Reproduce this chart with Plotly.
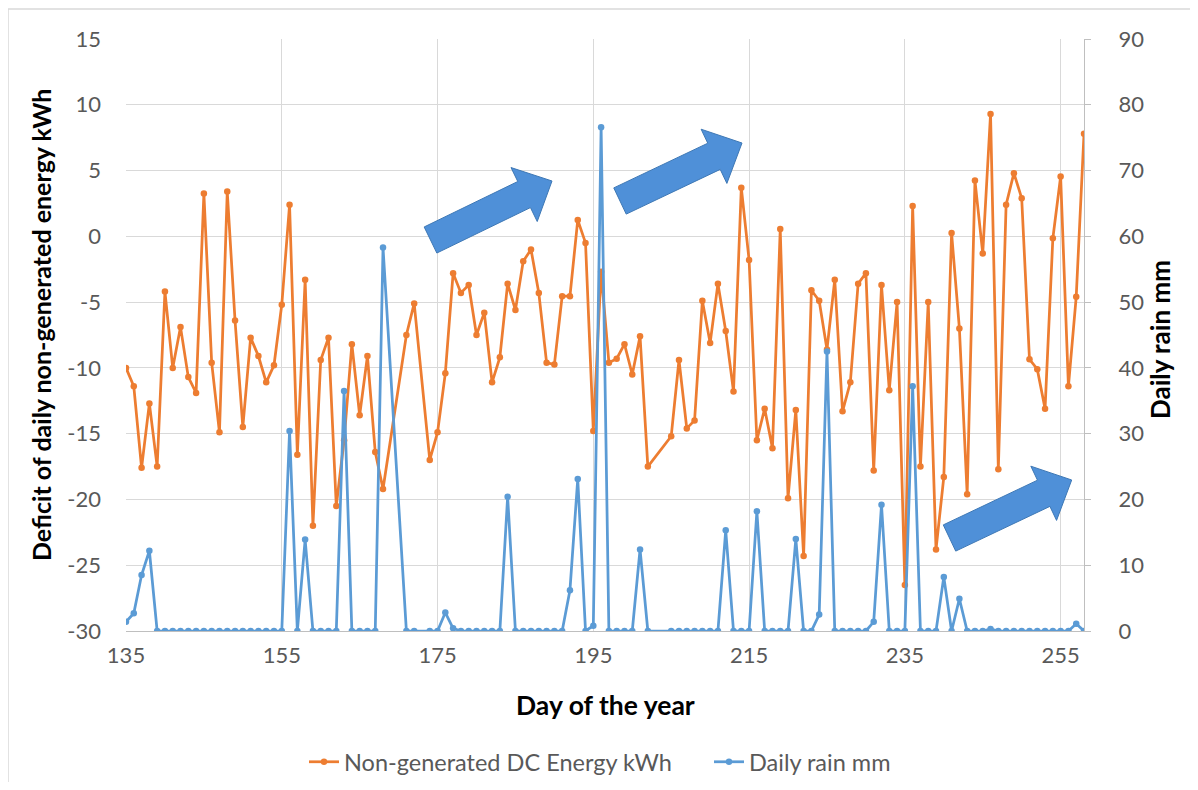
import plotly.graph_objects as go

days = [135, 136, 137, 138, 139, 140, 141, 142, 143, 144, 145, 146, 147, 148, 149, 150,
        151, 152, 153, 154, 155, 156, 157, 158, 159, 160, 161, 162, 163, 164, 165, 166,
        167, 168, 171, 172, 174, 175, 176, 177, 178, 179, 180, 181, 182, 183, 184, 185,
        186, 187, 188, 189, 190, 191, 192, 193, 194, 195, 196, 197, 198, 199, 200, 201,
        202, 205, 206, 207, 208, 209, 210, 211, 212, 213, 214, 215, 216, 217, 218, 219,
        220, 221, 222, 223, 224, 225, 226, 227, 228, 229, 230, 231, 232, 233, 234, 235,
        236, 237, 238, 239, 240, 241, 242, 243, 244, 245, 246, 247, 248, 249, 250, 251,
        252, 253, 254, 255, 256, 257, 258]

energy_deficit = [-10.0, -11.4, -17.6, -12.7, -17.5, -4.2, -10.0, -6.9, -10.7, -11.9, 3.25, -9.6,
                  -14.9, 3.4, -6.4, -14.5, -7.7, -9.1, -11.1, -9.8, -5.2, 2.4, -16.6, -3.3,
                  -22.0, -9.4, -7.7, -20.5, -15.5, -8.2, -13.6, -9.1, -16.4, -19.2, -7.5, -5.1,
                  -17.0, -14.9, -10.4, -2.8, -4.3, -3.7, -7.5, -5.8, -11.1, -9.2, -3.6, -5.6,
                  -1.9, -1.0, -4.3, -9.6, -9.75, -4.55, -4.55, 1.24, -0.5, -14.8, -2.7, -9.6,
                  -9.3, -8.2, -10.5, -7.6, -17.5, -15.2, -9.4, -14.6, -14.0, -4.9, -8.1, -3.6,
                  -7.2, -11.8, 3.7, -1.8, -15.5, -13.1, -16.1, 0.55, -19.9, -13.2, -24.3, -4.1,
                  -4.9, -8.6, -3.3, -13.3, -11.1, -3.6, -2.8, -17.8, -3.7, -11.7, -5.0, -26.5,
                  2.3, -17.5, -5.0, -23.8, -18.3, 0.25, -7.0, -19.6, 4.24, -1.3, 9.3, -17.7,
                  2.4, 4.8, 2.9, -9.35, -10.1, -13.1, -0.15, 4.55, -11.4, -4.6, 7.8]

daily_rain = [1.4, 2.7, 8.5, 12.2, 0, 0, 0, 0, 0, 0, 0, 0,
              0, 0, 0, 0, 0, 0, 0, 0, 0, 30.4, 0, 13.9,
              0, 0, 0, 0, 36.5, 0, 0, 0, 0, 58.3, 0, 0,
              0, 0, 2.8, 0.4, 0, 0, 0, 0, 0, 0, 20.4, 0,
              0, 0, 0, 0, 0, 0, 6.2, 23.1, 0, 0.8, 76.6, 0,
              0, 0, 0, 12.4, 0, 0, 0, 0, 0, 0, 0, 0,
              15.3, 0, 0, 0, 18.2, 0, 0, 0, 0, 14.0, 0, 0,
              2.5, 42.5, 0, 0, 0, 0, 0, 1.4, 19.2, 0, 0, 0,
              37.2, 0, 0, 0, 8.2, 0, 4.9, 0, 0, 0, 0.3, 0,
              0, 0, 0, 0, 0, 0, 0, 0, 0, 1.1, 0]

x_ticks = [135, 155, 175, 195, 215, 235, 255]
y_left_ticks = [-30, -25, -20, -15, -10, -5, 0, 5, 10, 15]
y_left_labels = ["-30", "-25", "-20", "-15", "-10", "-5", "0", "5", "10", "15"]
y_right_ticks = [0, 10, 20, 30, 40, 50, 60, 70, 80, 90]

ORANGE = "#ED7D31"
BLUE = "#5B9BD5"
FONT = "Lato, 'Open Sans', sans-serif"
TICK_COLOR = "#595959"
GRID = "#D9D9D9"

# page offset of the figure (body margin) and page-pixel layout
OFF = 8
PW, PH = 1198, 790
W, H = PW - 2 * OFF, PH - 2 * OFF
L, R, T, B = 126, 1084, 39, 631  # plot area in page pixels


def px(xp, yp):
    return (xp - L) / (R - L), (B - yp) / (B - T)


def arrow_path(tail, tip, shaft_w, head_w, head_len):
    tx, ty = tail
    hx, hy = tip
    dx, dy = hx - tx, hy - ty
    ln = (dx * dx + dy * dy) ** 0.5
    ux, uy = dx / ln, dy / ln
    nx, ny = -uy, ux
    bx, by = hx - ux * head_len, hy - uy * head_len
    pts = [
        (tx + nx * shaft_w / 2, ty + ny * shaft_w / 2),
        (bx + nx * shaft_w / 2, by + ny * shaft_w / 2),
        (bx + nx * head_w / 2, by + ny * head_w / 2),
        (hx, hy),
        (bx - nx * head_w / 2, by - ny * head_w / 2),
        (bx - nx * shaft_w / 2, by - ny * shaft_w / 2),
        (tx - nx * shaft_w / 2, ty - ny * shaft_w / 2),
    ]
    conv = [px(a, b) for a, b in pts]
    return "M " + " L ".join(f"{a:.5f},{b:.5f}" for a, b in conv) + " Z"


fig = go.Figure()
fig.add_trace(go.Scatter(
    x=days, y=energy_deficit, name="Non-generated DC Energy kWh",
    mode="lines+markers", line=dict(color=ORANGE, width=2.75),
    marker=dict(color=ORANGE, size=6.5), yaxis="y"))
fig.add_trace(go.Scatter(
    x=days, y=daily_rain, name="Daily rain mm",
    mode="lines+markers", line=dict(color=BLUE, width=2.75),
    marker=dict(color=BLUE, size=6.5), yaxis="y2"))

arrows = [
    ((430.5, 240), (552, 181)),
    ((620, 201), (742, 143)),
    ((949.5, 538), (1071.7, 480)),
]
shapes = []
for tail, tip in arrows:
    shapes.append(dict(type="path", xref="paper", yref="paper",
                       path=arrow_path(tail, tip, 29, 60, 31),
                       fillcolor="#4F90D8", line=dict(color="#3E78B5", width=1),
                       layer="above"))
# chart area border
x0, y0 = px(OFF, OFF + 1)
x1, y1 = px(PW + 20, PH + 20)
shapes.append(dict(type="rect", xref="paper", yref="paper", x0=x0, y0=y1, x1=x1, y1=y0,
                   line=dict(color="#D9D9D9", width=1.5), fillcolor="rgba(0,0,0,0)",
                   layer="below"))

fig.update_layout(
    width=W, height=H,
    margin=dict(l=L - OFF, r=W - (R - OFF), t=T - OFF, b=H - (B - OFF), pad=0,
                autoexpand=False),
    paper_bgcolor="white", plot_bgcolor="white",
    font=dict(family=FONT, color=TICK_COLOR, size=22),
    showlegend=True,
    legend=dict(orientation="h", x=(304 - L) / (R - L), xanchor="left",
                yref="container", y=1 - (762 - OFF) / H,
                yanchor="middle", font=dict(size=23.5, color=TICK_COLOR),
                itemwidth=30, tracegroupgap=0,
                entrywidth=360, entrywidthmode="pixels"),
    xaxis=dict(range=[135, 258], tickvals=x_ticks, showgrid=True, gridcolor=GRID,
               gridwidth=1, zeroline=False, showline=True, linecolor="#BFBFBF",
               ticks="", ticklabelstandoff=5, automargin=False,
               tickfont=dict(size=22, color=TICK_COLOR)),
    yaxis=dict(range=[-30, 15], tickvals=y_left_ticks, ticktext=y_left_labels,
               showgrid=True, gridcolor=GRID, automargin=False,
               gridwidth=1, zeroline=False, showline=False, ticks="",
               ticklabelstandoff=24, tickfont=dict(size=22, color=TICK_COLOR)),
    yaxis2=dict(range=[0, 90], tickvals=y_right_ticks, overlaying="y", side="right",
                showgrid=False, zeroline=False, showline=True, linecolor="#BFBFBF",
                ticks="outside", ticklen=6, tickcolor="#BFBFBF", ticklabelstandoff=23,
                automargin=False, tickfont=dict(size=22, color=TICK_COLOR)),
    shapes=shapes,
    annotations=[
        dict(text="<b>Day of the year</b>", xref="paper", yref="paper",
             x=0.5, y=(B - 705) / (B - T), xanchor="center", yanchor="middle",
             showarrow=False, font=dict(size=26.5, color="#000000", family=FONT)),
        dict(text="<b>Deficit of daily non-generated energy kWh</b>", xref="paper",
             yref="paper", x=(41 - L) / (R - L), y=(B - 325) / (B - T), xanchor="center",
             yanchor="middle", textangle=-90, showarrow=False,
             font=dict(size=25, color="#000000", family=FONT)),
        dict(text="<b>Daily rain mm</b>", xref="paper", yref="paper",
             x=(1160 - L) / (R - L), y=(B - 340) / (B - T), xanchor="center",
             yanchor="middle", textangle=-90, showarrow=False,
             font=dict(size=26, color="#000000", family=FONT)),
    ],
)

fig.write_html("out.html")
